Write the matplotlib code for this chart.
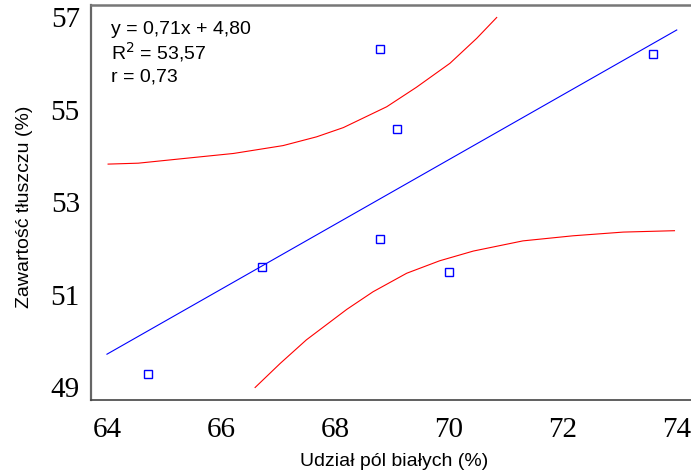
import matplotlib
matplotlib.use("Agg")
import matplotlib.pyplot as plt

# dane
udzial = [64.72, 66.72, 68.79, 68.79, 69.09, 70.00, 73.58]
tluszcz = [49.28, 51.59, 56.30, 52.20, 54.58, 51.48, 56.20]

# linia regresji
fit_x = [64.0, 74.0]
fit_y = [49.71, 56.72]

# granice przedziału ufności
upper_x = [64.02, 64.55, 65.34, 66.22, 67.09, 67.68, 68.15, 68.91, 69.43, 70.02, 70.49, 70.84]
upper_y = [53.82, 53.84, 53.94, 54.05, 54.22, 54.41, 54.61, 55.06, 55.48, 56.00, 56.54, 56.99]
lower_x = [66.60, 67.04, 67.50, 68.21, 68.67, 69.26, 69.84, 70.43, 71.30, 72.18, 73.06, 73.96]
lower_y = [48.99, 49.51, 50.02, 50.68, 51.06, 51.46, 51.73, 51.94, 52.16, 52.27, 52.35, 52.38]

xticks = [64, 66, 68, 70, 72, 74]
yticks = [49, 51, 53, 55, 57]

fig = plt.figure(figsize=(6.91, 4.76), dpi=100)
ax = fig.add_axes([0.1317, 0.1597, 0.8683, 0.8298])

ax.plot(fit_x, fit_y, color='blue', lw=0.8)
ax.plot(upper_x, upper_y, color='red', lw=0.8)
ax.plot(lower_x, lower_y, color='red', lw=0.8)
ax.plot(udzial, tluszcz, ls='none', marker='s', ms=5.5, mfc='none', mec='blue', mew=1.0)

ax.set_xlim(63.72, 74.25)
ax.set_ylim(48.72, 57.26)
ax.set_xticks(xticks)
ax.set_yticks(yticks)
for lab in ax.get_xticklabels() + ax.get_yticklabels():
    lab.set_family('Liberation Serif')
    lab.set_fontsize(21)
ax.tick_params(length=0)
ax.tick_params(axis='y', pad=8)
ax.tick_params(axis='x', pad=12)

ax.spines['left'].set_color('#666666')
ax.spines['left'].set_linewidth(1.6)
ax.spines['top'].set_color('#777777')
ax.spines['top'].set_linewidth(1.8)
ax.spines['bottom'].set_color('#444444')
ax.spines['bottom'].set_linewidth(1.2)
ax.spines['right'].set_visible(False)

ax.set_xlabel('Udział pól białych (%)', family='Liberation Sans', fontsize=14)
ax.set_ylabel('Zawartość tłuszczu (%)', family='Liberation Sans', fontsize=14)
ax.xaxis.set_label_coords(0.505, -0.135)
ax.yaxis.set_label_coords(-0.097, 0.49)

# opis równania regresji
rows = ['y = 0,71x + 4,80', 'R$^2$ = 53,57', 'r = 0,73']
row_base = [34.3, 59.0, 81.7]
for txt, py in zip(rows, row_base):
    fig.text(111 / 691, 1 - py / 476, txt, family='Liberation Sans', fontsize=14,
             va='baseline', ha='left')

fig.savefig('out.png', dpi=100)
